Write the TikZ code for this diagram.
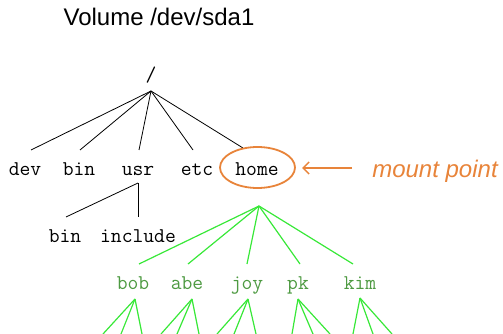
\documentclass[tikz,border=0pt]{standalone}
\usepackage{fontspec}
\setmainfont{Liberation Sans}
\usetikzlibrary{arrows.meta,shapes.geometric}
\definecolor{mporange}{HTML}{E8843A}
\definecolor{lgreen}{HTML}{38E838}
\definecolor{tgreen}{HTML}{4E9A42}
\tikzset{
  dirlabel/.style={anchor=base, inner sep=0pt, font=\ttfamily\fontsize{21}{23}\selectfont},
  userlabel/.style={dirlabel, text=tgreen},
  blackedge/.style={draw=black, line width=0.8pt},
  greenedge/.style={draw=lgreen, line width=1.2pt},
  orangeline/.style={draw=mporange, line width=1.5pt}
}
\begin{document}
\begin{tikzpicture}[x=1pt,y=-1pt]
\useasboundingbox (0,0) rectangle (503,334);
% title
\node[anchor=base, inner sep=0pt, font=\fontsize{24}{28}\selectfont] (title) at (159,26) {Volume /dev/sda1};
% root
\node[dirlabel] (root) at (151,82) {/};
\coordinate (rj) at (151,91);
% first level
\node[dirlabel] (dev) at (25,175) {dev};
\node[dirlabel] (bin) at (79,175) {bin};
\node[dirlabel] (usr) at (138,175) {usr};
\node[dirlabel] (etc) at (197,175) {etc};
\node[dirlabel] (home) at (257,175) {home};
\coordinate (devt) at (31,150);
\coordinate (bint) at (80,150);
\coordinate (usrt) at (139,150);
\coordinate (etct) at (193,150);
\coordinate (homet) at (243,148);
\foreach \c in {devt,bint,usrt,etct,homet} \draw[blackedge] (rj) -- (\c);
% usr children
\coordinate (uj) at (138,183);
\node[dirlabel] (ubin) at (65,242) {bin};
\node[dirlabel] (uinc) at (138,242) {include};
\coordinate (ubint) at (66,217);
\coordinate (uinct) at (138,217);
\draw[blackedge] (uj) -- (ubint);
\draw[blackedge] (uj) -- (uinct);
% mount point
\node[draw=mporange, line width=1.8pt, ellipse, minimum width=75pt, minimum height=41pt, inner sep=0pt] (ring) at (257.5,167.5) {};
\node[anchor=base, inner sep=0pt, text=mporange, font=\itshape\fontsize{24}{28}\selectfont] (mp) at (435,177) {mount point};
\coordinate (arrs) at (352,168);
\coordinate (arre) at (302,168);
\draw[orangeline, -{Straight Barb[length=6pt,width=12pt,line width=1.5pt]}] (arrs) -- (arre);
% home children
\coordinate (hj) at (259,206);
\node[userlabel] (bob) at (133,289) {bob};
\node[userlabel] (abe) at (187,289) {abe};
\node[userlabel] (joy) at (247,289) {joy};
\node[userlabel] (pk) at (298,289) {pk};
\node[userlabel] (kim) at (360,289) {kim};
\coordinate (bobt) at (139,264);
\coordinate (abet) at (188,264);
\coordinate (joyt) at (247,264);
\coordinate (pkt) at (300,264);
\coordinate (kimt) at (353,264);
\foreach \c in {bobt,abet,joyt,pkt,kimt} \draw[greenedge] (hj) -- (\c);
% lower level
\coordinate (bobb) at (135,299);
\coordinate (abeb) at (192,299);
\coordinate (joyb) at (248,299);
\coordinate (pkb) at (298,299);
\coordinate (kimb) at (360,298);
\foreach \a/\xs in {bobb/{103,121,142}, abeb/{161,177,199}, joyb/{217,234,256}, pkb/{292,313,330}, kimb/{353,373,392}}{
  \foreach \x in \xs { \draw[greenedge] (\a) -- (\x,334); }
}
\end{tikzpicture}
\end{document}
